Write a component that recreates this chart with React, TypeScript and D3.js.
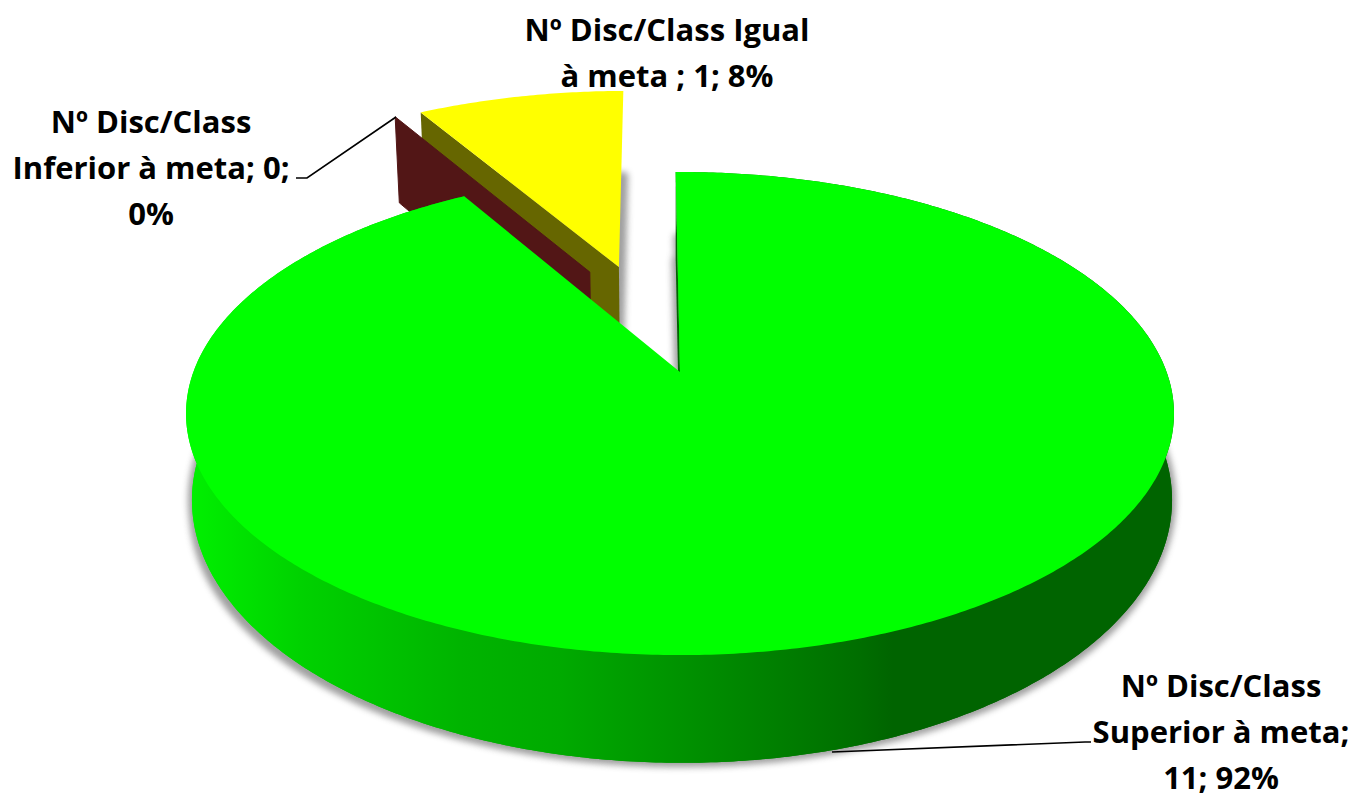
import React from "react";
import * as d3 from "d3";

const categories = ["Superior", "Inferior", "Igual"];
const values = [11, 0, 1];
const topColors = ["#00ff00", "#521616", "#ffff00"];
const cutColors = ["#006400", "#521616", "#666600"];
// Explosion offset and radius of each slice on the pie's unit disk
const offsets: [number, number][] = [[0, 0], [-0.2, 0.46], [-0.136, 0.485]];
const radii = [1, 1.022, 1.026];
const labelLines = [
  ["Nº Disc/Class", "Superior à meta;", "11; 92%"],
  ["Nº Disc/Class", "Inferior à meta; 0;", "0%"],
  ["Nº Disc/Class Igual", "à meta ; 1; 8%"],
];
const labelCenters = [1221, 151, 667];
const labelFirstBaselines = [697, 133, 41];
const leaders: [number, number][][] = [
  [[832, 752], [1085, 742], [1091, 742]],
  [[396, 117], [307, 178], [296, 178]],
];
const sideStops: [number, string][] = [
  [190, "#00f000"], [300, "#00d200"], [460, "#00b400"], [560, "#00aa00"],
  [660, "#009600"], [760, "#008200"], [860, "#006e00"], [893, "#006400"], [1175, "#006400"],
];

type Plane = { cx: number; cy: number; rx: number; ry: number; k: number };
const top: Plane = { cx: 680, cy: 372, rx: 486.6, ry: 234.4, k: 0.172 };
const bot: Plane = { cx: 680, cy: 468.5, rx: 479.5, ry: 244, k: 0.172 };
const botMain: Plane = { cx: 682, cy: 468.5, rx: 486.5, ry: 259, k: 0.12 };

const project = (pl: Plane, u: number, v: number): [number, number] => {
  const w = 1 + pl.k * v;
  return [pl.cx + (pl.rx * u) / w, pl.cy - (pl.ry * v) / w];
};

const rot = (-0.6 * Math.PI) / 180;
const slices = d3
  .pie<number>()
  .sort(null)
  .startAngle(rot)
  .endAngle(rot + 2 * Math.PI)(values);

const rim = (pl: Plane, i: number, a0: number, a1: number) => {
  const [ou, ov] = offsets[i];
  const r = radii[i];
  const n = Math.max(2, Math.ceil(Math.abs(a1 - a0) / 0.01));
  return d3.range(n + 1).map((j) => {
    const a = a0 + ((a1 - a0) * j) / n;
    return project(pl, ou + r * Math.sin(a), ov + r * Math.cos(a));
  });
};
const apex = (pl: Plane, i: number) => project(pl, offsets[i][0], offsets[i][1]);
const line = d3.line<[number, number]>();
const closed = (pts: [number, number][]) => line(pts) + "Z";
const sector = (pl: Plane, i: number) =>
  closed([apex(pl, i), ...rim(pl, i, slices[i].startAngle, slices[i].endAngle)]);
const cutFace = (i: number, a: number) =>
  closed([apex(top, i), rim(top, i, a, a)[0], rim(bot, i, a, a)[0], apex(bot, i)]);
const ribbon = (i: number) => {
  const t = rim(top, i, slices[i].startAngle, slices[i].endAngle);
  const b = rim(botMain, i, slices[i].startAngle, slices[i].endAngle);
  return closed([...t, ...b.reverse()]);
};

const font = "'Open Sans', Lato, sans-serif";
const LINE = 46;
const xGrad = d3.scaleLinear().domain([190, 1175]).range([0, 1]);

export default function App() {
  return (
    <svg
      width={1355}
      height={795}
      viewBox="0 0 1355 795"
      style={{ position: "absolute", left: 0, top: 0, display: "block", background: "#fff" }}
    >
      <defs>
        <filter id="sh" x="-10%" y="-10%" width="120%" height="120%">
          <feGaussianBlur stdDeviation="3" />
        </filter>
        <linearGradient id="side" gradientUnits="userSpaceOnUse" x1={190} x2={1175} y1={0} y2={0}>
          {sideStops.map(([x, c]) => (
            <stop key={x} offset={xGrad(x)} stopColor={c} />
          ))}
        </linearGradient>
      </defs>

      {/* shadows */}
      <g filter="url(#sh)" fill="#808080" stroke="#808080" strokeWidth={8} strokeLinejoin="round" opacity={0.75}>
        <path d={sector(bot, 2)} />
        <path d={sector(bot, 0)} />
        <path d={sector(botMain, 0)} />
      </g>

      {/* Igual slice */}
      <path d={cutFace(2, slices[2].startAngle)} fill={cutColors[2]} />
      <path d={sector(top, 2)} fill={topColors[2]} />

      {/* zero slice: only its cut plane shows */}
      <path d={cutFace(1, slices[1].startAngle)} fill={cutColors[1]} stroke={cutColors[1]} strokeWidth={1} strokeLinejoin="round" />

      {/* Superior slice */}
      <path d={sector(botMain, 0)} fill="url(#side)" />
      <path d={ribbon(0)} fill="url(#side)" />
      <path d={cutFace(0, slices[0].startAngle)} fill={cutColors[0]} />
      <path d={sector(top, 0)} fill={topColors[0]} />

      {/* leaders */}
      {leaders.map((l, i) => (
        <path key={i} d={line(l) ?? ""} fill="none" stroke="#000" strokeWidth={1.6} />
      ))}

      {/* labels */}
      {labelLines.map((lines, i) => (
        <text
          key={categories[i]}
          textAnchor="middle"
          fontFamily={font}
          fontWeight={700}
          fontSize={31}
          fill="#000"
        >
          {lines.map((t, j) => (
            <tspan key={j} x={labelCenters[i]} y={labelFirstBaselines[i] + j * LINE}>
              {t}
            </tspan>
          ))}
        </text>
      ))}
    </svg>
  );
}
